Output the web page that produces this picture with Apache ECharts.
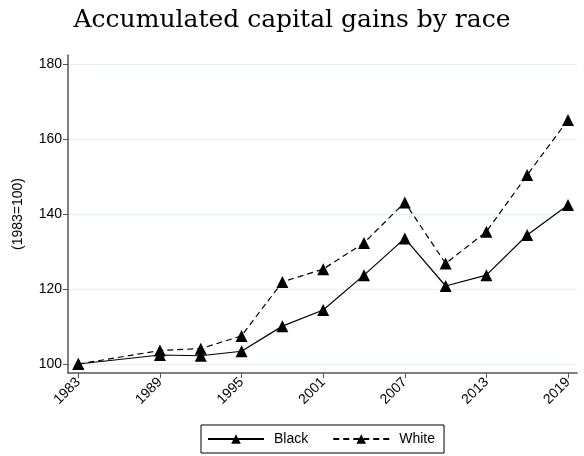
<!DOCTYPE html>
<html><head><meta charset="utf-8">
<script src="https://cdn.jsdelivr.net/npm/echarts@6/dist/echarts.min.js"></script>
<style>html,body{margin:0;padding:0;background:#fff}#c{width:584px;height:456px}</style>
</head><body><div id="c"></div>
<script>
const years = [1983, 1989, 1992, 1995, 1998, 2001, 2004, 2007, 2010, 2013, 2016, 2019];
const black = [100, 102.4, 102.2, 103.4, 110.1, 114.4, 123.7, 133.5, 120.8, 123.7, 134.4, 142.4];
const white = [100, 103.6, 104.1, 107.5, 121.9, 125.3, 132.3, 143.1, 126.8, 135.3, 150.4, 165.1];
const xTicks = [1983, 1989, 1995, 2001, 2007, 2013, 2019];
const yTicks = [100, 120, 140, 160, 180];

const chart = echarts.init(document.getElementById('c'), null, {renderer: 'canvas'});
const pair = (arr) => years.map((y, i) => [y, arr[i]]);
chart.setOption({
  animation: false,
  title: {
    text: 'Accumulated capital gains by race',
    left: 'center', top: 3,
    textStyle: {fontFamily: 'DejaVu Serif', fontWeight: 'normal', fontSize: 25, color: '#000'}
  },
  grid: {left: 68, right: 7, top: 55, bottom: 83},
  xAxis: {
    type: 'value', min: 1982.24, max: 2019.66,
    axisLine: {onZero: false, lineStyle: {color: '#555', width: 1.5}},
    axisTick: {show: true, length: 5, customValues: xTicks, lineStyle: {color: '#555'}},
    axisLabel: {customValues: xTicks, formatter: (v) => String(v), rotate: 45, fontFamily: 'Liberation Sans', fontSize: 14, color: '#000', margin: 7},
    splitLine: {show: false}
  },
  yAxis: {
    type: 'value', min: 97.6, max: 182.4,
    name: '(1983=100)', nameLocation: 'middle', nameGap: 43,
    nameTextStyle: {fontFamily: 'Liberation Sans', fontSize: 14, color: '#000'},
    axisLine: {show: true, onZero: false, lineStyle: {color: '#555', width: 1.5}},
    axisTick: {show: true, length: 5, customValues: yTicks, lineStyle: {color: '#555'}},
    axisLabel: {customValues: yTicks, fontFamily: 'Liberation Sans', fontSize: 14, color: '#000', margin: 6},
    splitLine: {show: true, lineStyle: {color: '#e8eff2', width: 1}}
  },
  legend: {
    bottom: 3, left: 201,
    itemWidth: 56, itemHeight: 12, itemGap: 24,
    padding: [7, 9, 7, 6],
    borderColor: '#000', borderWidth: 1, borderRadius: 0,
    textStyle: {fontFamily: 'Liberation Sans', fontSize: 14, color: '#000', padding: [0, 0, 0, 5]},
    data: ['Black', 'White']
  },
  series: [
    {name: 'Black', type: 'line', data: pair(black), symbol: 'triangle', symbolSize: 12,
     itemStyle: {color: '#000'}, lineStyle: {color: '#000', width: 1.2, type: 'solid'}},
    {name: 'White', type: 'line', data: pair(white), symbol: 'triangle', symbolSize: 12,
     itemStyle: {color: '#000'}, lineStyle: {color: '#000', width: 1.2, type: [6, 4]}}
  ]
});
</script></body></html>
